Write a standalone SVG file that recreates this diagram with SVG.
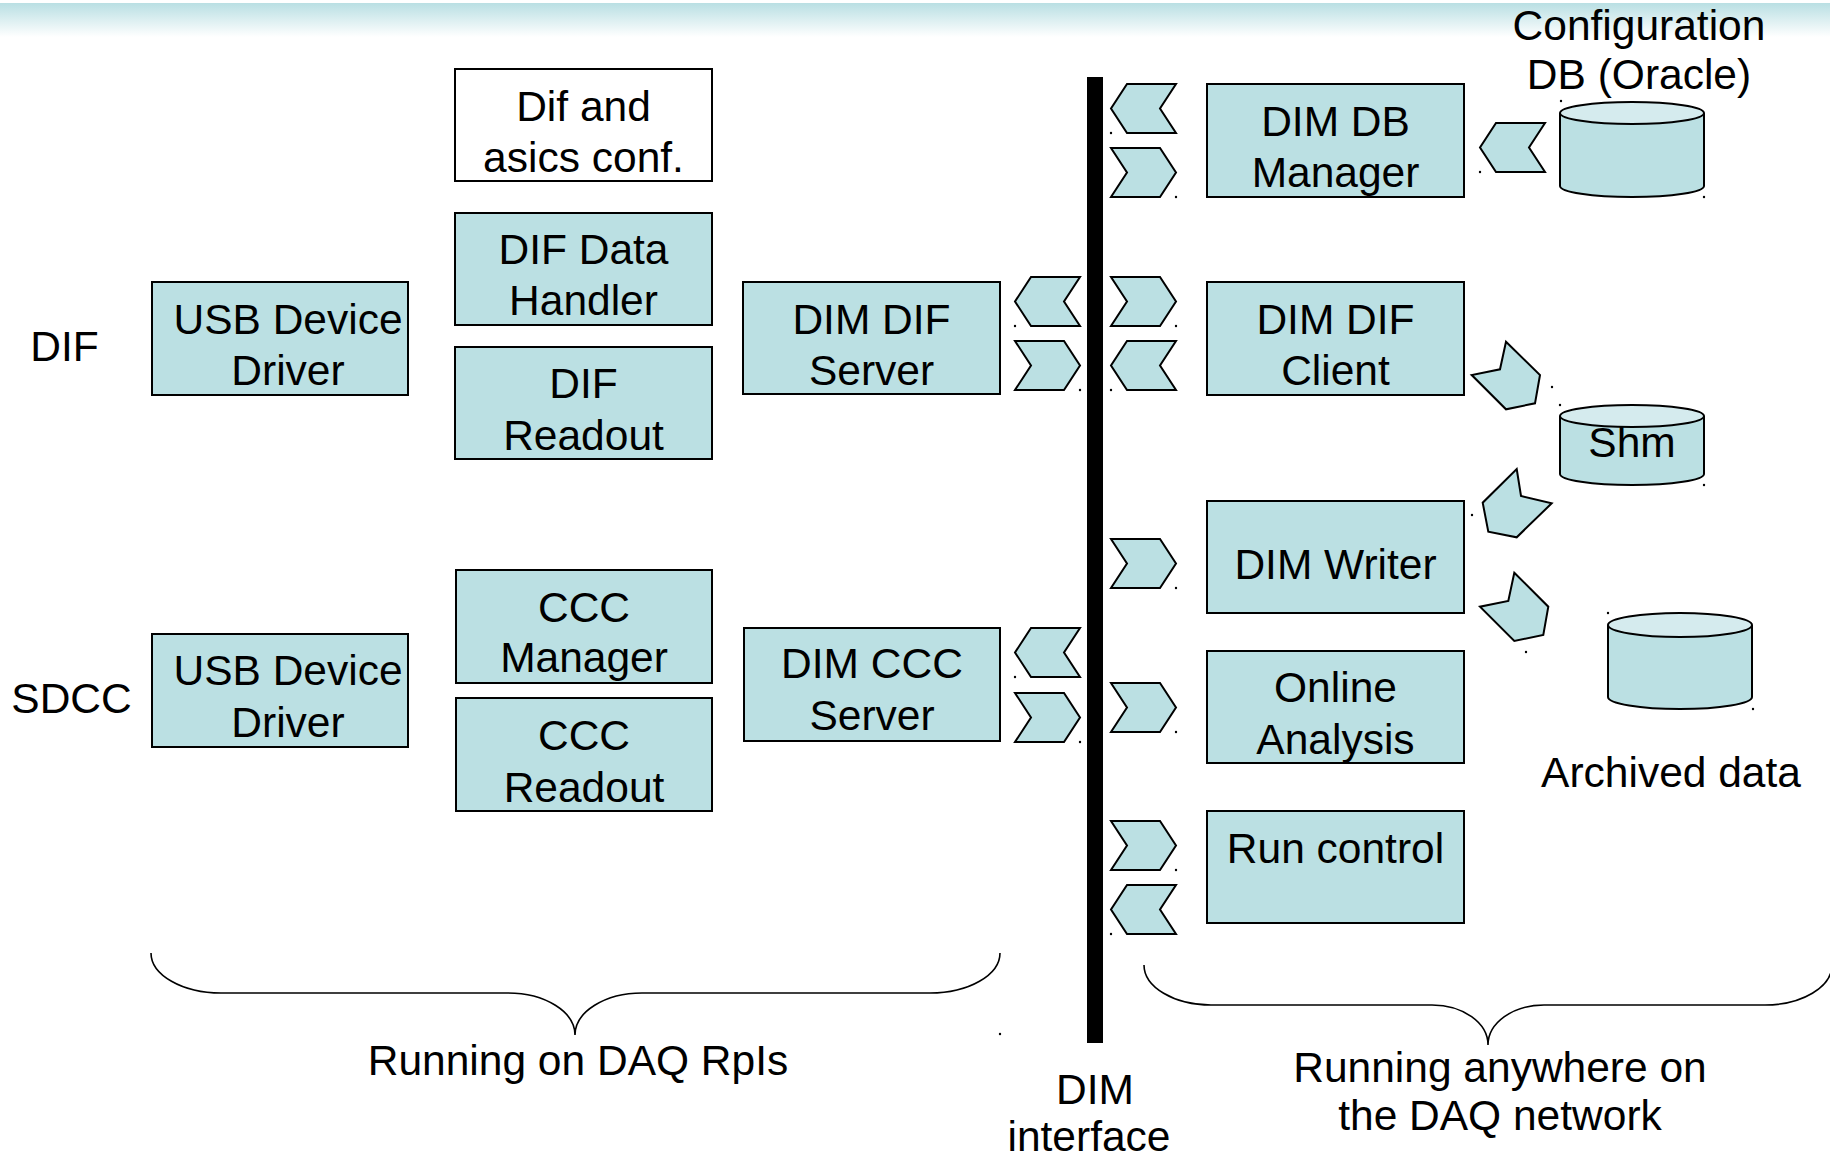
<svg xmlns="http://www.w3.org/2000/svg" xmlns:xlink="http://www.w3.org/1999/xlink" width="1830" height="1158" viewBox="0 0 1830 1158">
<defs>
<linearGradient id="band" x1="0" y1="0" x2="0" y2="1">
<stop offset="0" stop-color="#b9dfe3"/>
<stop offset="1" stop-color="#ffffff"/>
</linearGradient>
<polygon id="chevR" points="0,0 49,0 65,24.5 49,49 0,49 16,24.5"/>
<polygon id="chevL" points="65,0 16,0 0,24.5 16,49 65,49 49,24.5"/>
</defs>
<style>
.box{fill:#bbe0e3;stroke:#000;stroke-width:2}
.wbox{fill:#fff;stroke:#000;stroke-width:2}
.arr{fill:#bbe0e3;stroke:#000;stroke-width:2;stroke-linejoin:miter}
.cyl{fill:#bbe0e3;stroke:#000;stroke-width:2}
.cyltop{fill:#d5ebee;stroke:#000;stroke-width:2}
.brace{fill:none;stroke:#000;stroke-width:1.6}
.dot{fill:#000}
text{font-family:"Liberation Sans",Arial,sans-serif;font-size:42.5px;fill:#000;text-anchor:middle}
</style>
<rect x="0" y="0" width="1830" height="1158" fill="#fff"/>
<rect x="0" y="3" width="1830" height="34" fill="url(#band)"/>

<rect id="dim-bus" x="1087" y="77" width="16" height="966" fill="#000"/>

<g id="dif-conf"><rect class="wbox" x="455" y="69" width="257" height="112"/><text x="583.5" y="121">Dif and</text><text x="583.5" y="172">asics conf.</text></g>
<g id="dif-data-handler"><rect class="box" x="455" y="213" width="257" height="112"/><text x="583.5" y="264">DIF Data</text><text x="583.5" y="315">Handler</text></g>
<g id="dif-readout"><rect class="box" x="455" y="347" width="257" height="112"/><text x="583.5" y="398">DIF</text><text x="583.5" y="450">Readout</text></g>
<g id="dif-usb"><rect class="box" x="152" y="282" width="256" height="113"/><text x="288" y="334">USB Device</text><text x="288" y="385">Driver</text></g>
<g id="dim-dif-server"><rect class="box" x="743" y="282" width="257" height="112"/><text x="871.5" y="334">DIM DIF</text><text x="871.5" y="385">Server</text></g>

<g id="sdcc-usb"><rect class="box" x="152" y="634" width="256" height="113"/><text x="288" y="685">USB Device</text><text x="288" y="737">Driver</text></g>
<g id="ccc-manager"><rect class="box" x="456" y="570" width="256" height="113"/><text x="584" y="622">CCC</text><text x="584" y="672">Manager</text></g>
<g id="ccc-readout"><rect class="box" x="456" y="698" width="256" height="113"/><text x="584" y="750">CCC</text><text x="584" y="802">Readout</text></g>
<g id="dim-ccc-server"><rect class="box" x="744" y="628" width="256" height="113"/><text x="872" y="678">DIM CCC</text><text x="872" y="730">Server</text></g>

<g id="dim-db-manager"><rect class="box" x="1207" y="84" width="257" height="113"/><text x="1335.5" y="136">DIM DB</text><text x="1335.5" y="187">Manager</text></g>
<g id="dim-dif-client"><rect class="box" x="1207" y="282" width="257" height="113"/><text x="1335.5" y="334">DIM DIF</text><text x="1335.5" y="385">Client</text></g>
<g id="dim-writer"><rect class="box" x="1207" y="501" width="257" height="112"/><text x="1335.5" y="579">DIM Writer</text></g>
<g id="online-analysis"><rect class="box" x="1207" y="651" width="257" height="112"/><text x="1335.5" y="702">Online</text><text x="1335.5" y="754">Analysis</text></g>
<g id="run-control"><rect class="box" x="1207" y="811" width="257" height="112"/><text x="1335.5" y="863">Run control</text></g>

<g id="config-db">
<path class="cyl" d="M1560,113 V186 A72,11 0 0 0 1704,186 V113"/>
<ellipse class="cyltop" cx="1632" cy="113" rx="72" ry="11"/>
<text x="1639" y="40">Configuration</text><text x="1639" y="89">DB (Oracle)</text>
</g>
<g id="shm">
<path class="cyl" d="M1560,416 V474 A72,11 0 0 0 1704,474 V416"/>
<ellipse class="cyltop" cx="1632" cy="416" rx="72" ry="11"/>
<text x="1632" y="457">Shm</text>
</g>
<g id="archive">
<path class="cyl" d="M1608,625 V697 A72,12 0 0 0 1752,697 V625"/>
<ellipse class="cyltop" cx="1680" cy="625" rx="72" ry="12"/>
<text x="1671" y="787">Archived data</text>
</g>

<g id="connectors">
<use xlink:href="#chevL" class="arr" x="1015" y="277"/>
<use xlink:href="#chevR" class="arr" x="1015" y="341"/>
<use xlink:href="#chevL" class="arr" x="1015" y="628"/>
<use xlink:href="#chevR" class="arr" x="1015" y="693"/>
<use xlink:href="#chevL" class="arr" x="1111" y="84"/>
<use xlink:href="#chevR" class="arr" x="1111" y="148"/>
<use xlink:href="#chevR" class="arr" x="1111" y="277"/>
<use xlink:href="#chevL" class="arr" x="1111" y="341"/>
<use xlink:href="#chevR" class="arr" x="1111" y="539"/>
<use xlink:href="#chevR" class="arr" x="1111" y="683"/>
<use xlink:href="#chevR" class="arr" x="1111" y="821"/>
<use xlink:href="#chevL" class="arr" x="1111" y="885"/>
<use xlink:href="#chevL" class="arr" x="1480" y="123"/>
<polygon class="arr" points="1506,341.7 1540,375 1535,403.3 1506,409.3 1471.7,375 1500,369.3"/>
<polygon class="arr" points="1516.7,469 1521,496 1551.7,503.3 1516.7,537.3 1488.3,531.7 1482.7,502.7"/>
<polygon class="arr" points="1514.3,572.7 1548.3,606.7 1543.3,635 1514.3,641 1480,606.7 1508.3,601"/>
</g>

<g id="dots">
<circle class="dot" cx="1015" cy="326" r="1.2"/><circle class="dot" cx="1080" cy="390" r="1.2"/>
<circle class="dot" cx="1015" cy="677" r="1.2"/><circle class="dot" cx="1080" cy="742" r="1.2"/>
<circle class="dot" cx="1111" cy="133" r="1.2"/><circle class="dot" cx="1176" cy="197" r="1.2"/>
<circle class="dot" cx="1176" cy="326" r="1.2"/><circle class="dot" cx="1111" cy="390" r="1.2"/>
<circle class="dot" cx="1176" cy="588" r="1.2"/><circle class="dot" cx="1176" cy="732" r="1.2"/>
<circle class="dot" cx="1176" cy="870" r="1.2"/><circle class="dot" cx="1111" cy="934" r="1.2"/>
<circle class="dot" cx="1480" cy="172" r="1.2"/>
<circle class="dot" cx="1561" cy="101" r="1.2"/><circle class="dot" cx="1704" cy="197" r="1.2"/>
<circle class="dot" cx="1560" cy="405" r="1.2"/><circle class="dot" cx="1704" cy="485" r="1.2"/>
<circle class="dot" cx="1608" cy="613" r="1.2"/><circle class="dot" cx="1753" cy="709" r="1.2"/>
<circle class="dot" cx="1552" cy="387" r="1.2"/><circle class="dot" cx="1472" cy="515" r="1.2"/>
<circle class="dot" cx="1526" cy="652" r="1.2"/><circle class="dot" cx="1000" cy="1034" r="1.2"/>
</g>

<g id="braces">
<path class="brace" d="M151,953 A70,40 0 0 0 221,993 L508,993 A67,42 0 0 1 575,1035 A67,42 0 0 1 642,993 L930,993 A70,40 0 0 0 1000,953"/>
<path class="brace" d="M1144,965 A67,40 0 0 0 1211,1005 L1432,1005 A56,40 0 0 1 1488,1045 A56,40 0 0 1 1544,1005 L1765,1005 A67,40 0 0 0 1832,965"/>
</g>

<g id="labels">
<text x="64.5" y="361">DIF</text>
<text x="71.5" y="713">SDCC</text>
<text x="578" y="1075">Running on DAQ RpIs</text>
<text x="1095" y="1104">DIM</text>
<text x="1089" y="1151">interface</text>
<text x="1500" y="1082">Running anywhere on</text>
<text x="1500" y="1130">the DAQ network</text>
</g>
</svg>
